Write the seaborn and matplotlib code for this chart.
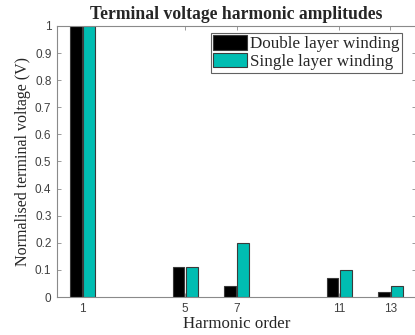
import matplotlib
matplotlib.use("Agg")
import matplotlib.pyplot as plt
import seaborn as sns
import pandas as pd

harmonics = [1, 5, 7, 11, 13]
double_layer = [1.0, 0.11, 0.04, 0.07, 0.02]
single_layer = [1.0, 0.11, 0.20, 0.10, 0.04]
series_names = ["Double layer winding", "Single layer winding"]
yticks = [0, 0.1, 0.2, 0.3, 0.4, 0.5, 0.6, 0.7, 0.8, 0.9, 1]

df = pd.DataFrame({
    "h": harmonics * 2,
    "v": double_layer + single_layer,
    "s": [series_names[0]] * len(harmonics) + [series_names[1]] * len(harmonics),
})

sns.set_theme(style="white")
fig = plt.figure(figsize=(4.15, 3.35), dpi=100)
ax = fig.add_axes([57 / 415, 38 / 335, 359 / 415, 271 / 335])

sns.barplot(data=df, x="h", y="v", hue="s", native_scale=True,
            palette=["#000000", "#00bdb2"], saturation=1, width=0.52, gap=0.12,
            edgecolor="#3a3a3a", linewidth=0.8, ax=ax)

ax.set_xlim(0, 14)
ax.set_ylim(0, 1)
ax.set_xticks(harmonics)
ax.set_xticklabels([str(h) for h in harmonics])
ax.set_yticks(yticks)
ax.set_yticklabels(["0" if t == 0 else ("1" if t == 1 else f"{t:g}") for t in yticks])
for s in ax.spines.values():
    s.set_color("#8a8a8a")
    s.set_linewidth(0.8)
ax.tick_params(direction="in", length=3, width=0.6, color="#8a8a8a",
               labelsize=8.5, labelcolor="#404040", top=True, right=True,
               bottom=True, left=True, pad=4)
for lab in ax.get_xticklabels() + ax.get_yticklabels():
    lab.set_family("Liberation Sans")

ax.set_title("Terminal voltage harmonic amplitudes", family="Liberation Serif",
             fontweight="bold", fontsize=12.7, pad=5)
ax.set_xlabel("Harmonic order", family="Liberation Serif", fontsize=12.2, labelpad=1)
ax.set_ylabel("Normalised terminal voltage (V)", family="Liberation Serif",
              fontsize=11.5, labelpad=3)

leg = ax.legend(loc="upper right", prop={"family": "Liberation Serif", "size": 12.3},
                frameon=True, fancybox=False, edgecolor="#3a3a3a",
                handlelength=2.0, handleheight=0.9, handletextpad=0.15,
                borderpad=0.15, labelspacing=0.05, borderaxespad=0.4,
                bbox_to_anchor=(0.98, 1.0))
leg.get_frame().set_linewidth(0.8)

fig.savefig("out.png", dpi=100)
